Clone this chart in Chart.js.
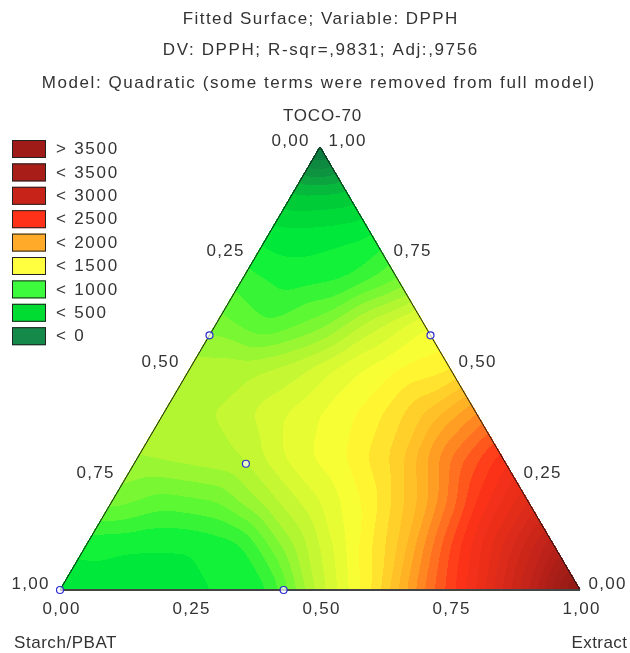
<!DOCTYPE html>
<html>
<head>
<meta charset="utf-8">
<title>Fitted Surface; Variable: DPPH</title>
<script src="https://cdn.jsdelivr.net/npm/chart.js@4.4.1/dist/chart.umd.min.js"></script>
<style>
  html, body { margin: 0; padding: 0; background: #ffffff; }
  #wrap { width: 630px; height: 653px; }
</style>
</head>
<body>
<div id="wrap"><canvas id="ternary" width="630" height="653"></canvas></div>
<script>
// Ternary plot: Starch/PBAT (bottom-left), TOCO-70 (top), Extract (bottom-right)
const titleLines = [
    'Fitted Surface; Variable: DPPH',
    'DV: DPPH; R-sqr=,9831; Adj:,9756',
    'Model: Quadratic (some terms were removed from full model)'
];
const axisNames = ['Starch/PBAT', 'TOCO-70', 'Extract'];
const tickValues = [0, 0.25, 0.5, 0.75, 1];
const tickLabels = ['0,00', '0,25', '0,50', '0,75', '1,00'];

// DPPH surface on a 0.1 grid.
// rowTocoN: TOCO-70 = N/10, entries for Extract = 0, 0.1, 0.2, ...
const rowToco0 = [450, 470, 480, 500, 580, 1150, 1600, 2200, 2700, 3300, 4000];
const rowToco1 = [520, 500, 500, 580, 1000, 1400, 1800, 2400, 2900, 3400];
const rowToco2 = [850, 750, 800, 1050, 1300, 1550, 1950, 2500, 2900];
const rowToco3 = [1000, 1050, 1100, 1350, 1500, 1750, 2200, 2550];
const rowToco4 = [1100, 1100, 1250, 1400, 1550, 1800, 2100];
const rowToco5 = [1050, 1050, 1150, 1350, 1500, 1580];
const rowToco6 = [850, 700, 850, 1150, 1380];
const rowToco7 = [650, 550, 600, 800];
const rowToco8 = [450, 450, 500];
const rowToco9 = [180, 200];
const rowToco10 = [-400];
const surfaceRows = [rowToco0, rowToco1, rowToco2, rowToco3, rowToco4, rowToco5,
    rowToco6, rowToco7, rowToco8, rowToco9, rowToco10];

// design points (mixture fractions)
const pointStarch = [1.00, 0.57, 0.425, 0.00, 0.50];
const pointToco = [0.00, 0.00, 0.575, 0.575, 0.285];
const pointExtract = [0.00, 0.43, 0.00, 0.425, 0.215];

const legendLabels = ['> 3500', '< 3500', '< 3000', '< 2500', '< 2000', '< 1500', '< 1000', '< 500', '< 0'];
const legendColors = ['#9e1b17', '#a81d18', '#c82319', '#ff3219', '#ffaa28', '#ffff40', '#3cfa3c', '#00dc32', '#15894a'];

// colour ramp for the surface
const ramp = [
    [-400, '#0b6e3e'], [0, '#0e9a40'], [250, '#00cc38'], [500, '#00f03a'],
    [750, '#5cf834'], [1000, '#a8f532'], [1250, '#d8fa33'], [1500, '#ffff33'],
    [1750, '#ffd02a'], [2000, '#ffaa22'], [2250, '#ff7020'], [2500, '#ff3318'],
    [3000, '#d82a1a'], [3500, '#b01e18'], [4000, '#8a1a14']
].map(([v, hex]) => [v, parseInt(hex.slice(1, 3), 16), parseInt(hex.slice(3, 5), 16), parseInt(hex.slice(5, 7), 16)]);

const FONT = '"Liberation Sans Narrow", "Liberation Sans", Arial, sans-serif';

function rampColor(v) {
    if (v <= ramp[0][0]) return ramp[0].slice(1);
    for (let k = 1; k < ramp.length; k++) {
        if (v <= ramp[k][0]) {
            const a = ramp[k - 1], b = ramp[k];
            const f = (v - a[0]) / (b[0] - a[0]);
            return [a[1] + (b[1] - a[1]) * f, a[2] + (b[2] - a[2]) * f, a[3] + (b[3] - a[3]) * f];
        }
    }
    return ramp[ramp.length - 1].slice(1);
}

// value inside the grid triangle that holds (extract, toco)
function surfaceAt(e, t) {
    const n = surfaceRows.length - 1;
    const u = e * n, v = t * n;
    let i = Math.max(0, Math.min(Math.floor(v), n - 1));
    let j = Math.max(0, Math.floor(u));
    if (j > n - i - 1) j = n - i - 1;
    const fu = u - j, fv = v - i;
    const r0 = surfaceRows[i], r1 = surfaceRows[i + 1];
    if (fu + fv <= 1 || j > n - i - 2) {
        return r0[j] * (1 - fu - fv) + r0[j + 1] * fu + r1[j] * fv;
    }
    const gu = 1 - fu, gv = 1 - fv;
    return r1[j + 1] * (1 - gu - gv) + r1[j] * gu + r0[j + 1] * gv;
}

// simple box blur, used to round off the kinks of the linear patches
function boxBlur(src, w, h, r) {
    const tmp = new Float32Array(w * h), out = new Float32Array(w * h);
    const n = 2 * r + 1;
    for (let y = 0; y < h; y++) {
        let acc = 0;
        for (let k = -r; k <= r; k++) acc += src[y * w + Math.min(w - 1, Math.max(0, k))];
        for (let x = 0; x < w; x++) {
            tmp[y * w + x] = acc / n;
            acc += src[y * w + Math.min(w - 1, x + r + 1)] - src[y * w + Math.max(0, x - r)];
        }
    }
    for (let x = 0; x < w; x++) {
        let acc = 0;
        for (let k = -r; k <= r; k++) acc += tmp[Math.min(h - 1, Math.max(0, k)) * w + x];
        for (let y = 0; y < h; y++) {
            out[y * w + x] = acc / n;
            acc += tmp[Math.min(h - 1, y + r + 1) * w + x] - tmp[Math.max(0, y - r) * w + x];
        }
    }
    return out;
}

// ternary -> cartesian (x across the base, y up to the TOCO apex)
const toXY = (e, t) => ({ x: e + t / 2, y: t });

function drawText(ctx, text, x, y, align, spacing) {
    ctx.letterSpacing = spacing + 'px';
    const w = ctx.measureText(text).width;
    let left = x;
    if (align === 'center') left = x - w / 2 + spacing / 2;
    else if (align === 'right') left = x - w + spacing;
    ctx.textAlign = 'left';
    ctx.fillText(text, left, y);
}

function spacingFor(ctx, text, width) {
    ctx.letterSpacing = '0px';
    const w = ctx.measureText(text).width;
    return Math.max(0, (width - w) / text.length);
}

const surfacePlugin = {
    id: 'ternarySurface',
    beforeDatasetsDraw(chart) {
        const { ctx, chartArea: area } = chart;
        const xs = chart.scales.x, ys = chart.scales.y;
        const w = Math.ceil(area.right - area.left), h = Math.ceil(area.bottom - area.top);
        const vals = new Float32Array(w * h);
        const inside = new Uint8Array(w * h);
        for (let py = 0; py < h; py++) {
            const t = ys.getValueForPixel(area.top + py + 0.5);
            for (let px = 0; px < w; px++) {
                const x = xs.getValueForPixel(area.left + px + 0.5);
                const e = x - t / 2, s = 1 - e - t;
                if (e >= -0.002 && t >= -0.002 && s >= -0.002) inside[py * w + px] = 1;
                // project outside pixels back onto the triangle so the blur has sane edges
                const ce = Math.max(0, e), ct = Math.max(0, t), cs = Math.max(0, s);
                const sum = ce + ct + cs;
                vals[py * w + px] = surfaceAt(ce / sum, ct / sum);
            }
        }
        const smooth = boxBlur(boxBlur(vals, w, h, 9), w, h, 9);
        const off = document.createElement('canvas');
        off.width = w; off.height = h;
        const octx = off.getContext('2d');
        const img = octx.createImageData(w, h);
        for (let k = 0; k < w * h; k++) {
            if (!inside[k]) continue;
            const band = Math.floor(smooth[k] / 100) * 100 + 50;
            const c = rampColor(band);
            img.data[k * 4] = c[0]; img.data[k * 4 + 1] = c[1]; img.data[k * 4 + 2] = c[2]; img.data[k * 4 + 3] = 255;
        }
        octx.putImageData(img, 0, 0);
        ctx.drawImage(off, area.left, area.top);

        // triangle outline
        const a = toXY(0, 0), b = toXY(1, 0), c = toXY(0, 1);
        const pa = [xs.getPixelForValue(a.x), ys.getPixelForValue(a.y)];
        const pb = [xs.getPixelForValue(b.x), ys.getPixelForValue(b.y)];
        const pc = [xs.getPixelForValue(c.x), ys.getPixelForValue(c.y)];
        ctx.save();
        ctx.strokeStyle = '#1a1a1a';
        ctx.lineWidth = 1;
        ctx.beginPath();
        ctx.moveTo(pa[0], pa[1]); ctx.lineTo(pc[0], pc[1]); ctx.lineTo(pb[0], pb[1]);
        ctx.stroke();
        ctx.strokeStyle = '#444';
        ctx.lineWidth = 2;
        ctx.beginPath();
        ctx.moveTo(pa[0], pa[1]); ctx.lineTo(pb[0], pb[1]);
        ctx.stroke();
        ctx.restore();
    },
    afterDraw(chart) {
        const { ctx } = chart;
        const xs = chart.scales.x, ys = chart.scales.y;
        const px = p => [xs.getPixelForValue(p.x), ys.getPixelForValue(p.y)];
        ctx.save();
        ctx.fillStyle = '#333';
        ctx.textBaseline = 'middle';

        // titles
        ctx.font = '17px ' + FONT;
        drawText(ctx, titleLines[0], 320, 19, 'center', spacingFor(ctx, titleLines[0], 276));
        drawText(ctx, titleLines[1], 320, 50, 'center', spacingFor(ctx, titleLines[1], 316));
        drawText(ctx, titleLines[2], 318, 83, 'center', spacingFor(ctx, titleLines[2], 554));

        // edge ticks
        ctx.font = '17px ' + FONT;
        const tickLs = spacingFor(ctx, '0,25', 38);
        tickValues.forEach((val, k) => {
            // left edge: Starch/PBAT
            let p = px(toXY(0, 1 - val));
            drawText(ctx, tickLabels[k], p[0] - 30, p[1] - 6, 'center', tickLs);
            // right edge: TOCO-70
            p = px(toXY(1 - val, val));
            drawText(ctx, tickLabels[k], p[0] + 27, p[1] - 6, 'center', tickLs);
            // bottom: Extract
            p = px(toXY(val, 0));
            drawText(ctx, tickLabels[k], p[0] + 1, p[1] + 19, 'center', tickLs);
        });

        // axis names
        const apex = px(toXY(0, 1));
        drawText(ctx, axisNames[1], apex[0] + 2, apex[1] - 31, 'center', spacingFor(ctx, axisNames[1], 79));
        drawText(ctx, axisNames[0], 14, 643, 'left', spacingFor(ctx, axisNames[0], 103));
        drawText(ctx, axisNames[2], 627, 643, 'right', spacingFor(ctx, axisNames[2], 56));

        // legend
        const legLs = spacingFor(ctx, legendLabels[0], 63);
        legendLabels.forEach((lab, k) => {
            const top = 140 + k * 23.4;
            ctx.fillStyle = legendColors[k];
            ctx.fillRect(12, top, 34, 18);
            ctx.strokeStyle = '#222';
            ctx.lineWidth = 1;
            ctx.strokeRect(12.5, top + 0.5, 33, 17);
            ctx.fillStyle = '#333';
            drawText(ctx, lab, 56, top + 9.5, 'left', legLs);
        });
        ctx.restore();
    }
};

const designPoints = pointStarch.map((s, k) => toXY(pointExtract[k], pointToco[k]));

new Chart(document.getElementById('ternary'), {
    type: 'scatter',
    data: {
        datasets: [{
            label: 'Design points',
            data: designPoints,
            pointStyle: 'circle',
            pointRadius: 3.5,
            pointBorderWidth: 1.2,
            borderColor: '#2b2bd0',
            backgroundColor: 'rgba(255,255,255,0.7)',
            clip: false
        }]
    },
    options: {
        responsive: false,
        animation: false,
        events: [],
        layout: { padding: { left: 60, right: 50, top: 147, bottom: 63 } },
        plugins: { legend: { display: false }, tooltip: { enabled: false }, title: { display: false } },
        scales: {
            x: { type: 'linear', min: 0, max: 1, display: false },
            y: { type: 'linear', min: 0, max: 1, display: false }
        }
    },
    plugins: [surfacePlugin]
});
</script>
</body>
</html>
